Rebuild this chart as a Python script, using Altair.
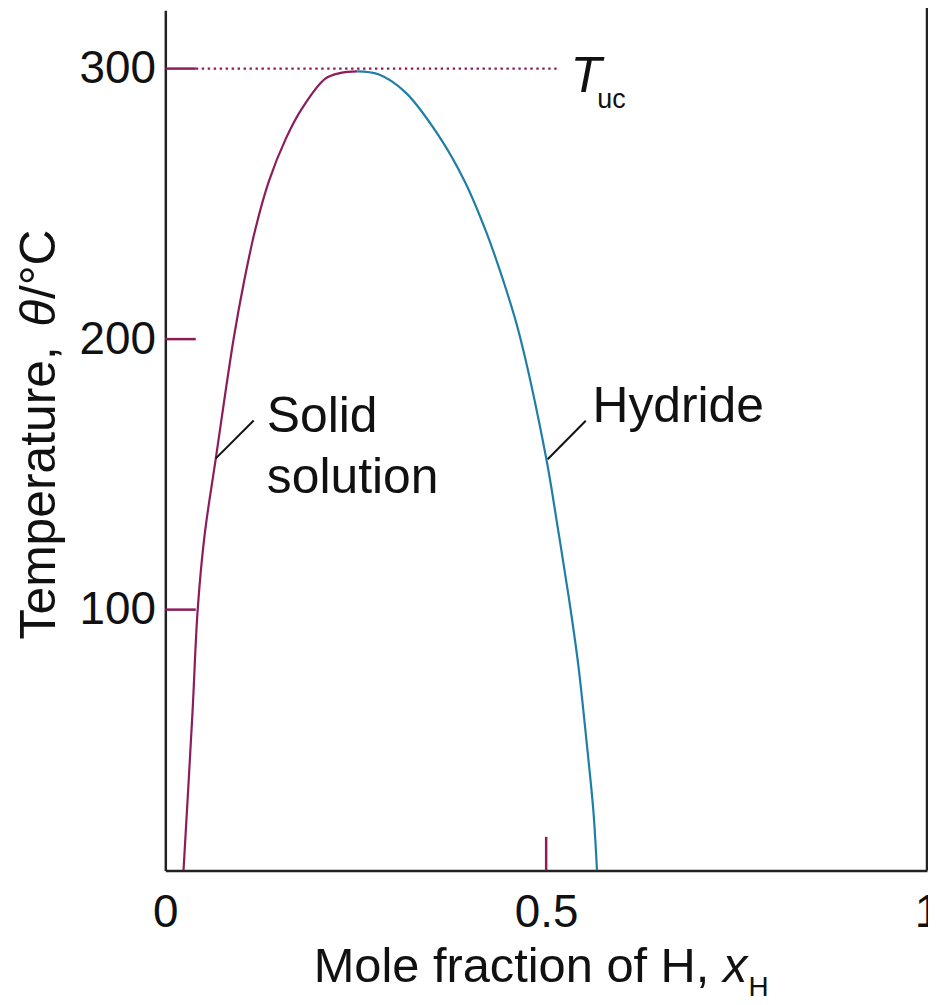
import altair as alt
import pandas as pd

# ---- data ----
solid_x = [0.0239, 0.0357, 0.0425, 0.0516, 0.0663, 0.0898, 0.1035, 0.1186, 0.1359, 0.1584, 0.1795, 0.2101, 0.2301, 0.2523]
solid_T = [3.6, 62.1, 100.0, 127.6, 155.9, 200.3, 221.5, 241.1, 258.3, 274.2, 285.3, 296.3, 298.4, 299.0]

hydride_x = [0.2523, 0.2797, 0.3146, 0.3582, 0.3931, 0.4209, 0.4438, 0.4647, 0.4997, 0.5150, 0.5294, 0.5418, 0.5536, 0.5621, 0.5667]
hydride_T = [299.0, 297.9, 291.4, 275.5, 258.3, 239.9, 221.5, 201.9, 156.5, 130.7, 105.1, 80.4, 49.7, 25.2, 3.7]

y_tick_values = [100, 200, 300]
x_tick_values = [0, 0.5, 1]
T_uc = 300

T_MIN, T_MAX = 3.6, 321.6

CRIMSON = "#8c1c5a"
BLUE = "#1f7ea6"
AXIS = "#222222"
FONT = "Liberation Sans"

xs = alt.Scale(domain=[0, 1], nice=False, zero=False)
ys = alt.Scale(domain=[T_MIN, T_MAX], nice=False, zero=False)

df_solid = pd.DataFrame({"x": solid_x, "T": solid_T})
df_hyd = pd.DataFrame({"x": hydride_x, "T": hydride_T})

solid_line = alt.Chart(df_solid).mark_line(
    interpolate="catmull-rom", color=CRIMSON, strokeWidth=2.2
).encode(
    x=alt.X("x:Q", scale=xs, axis=alt.Axis(
        values=x_tick_values, format=".1~f", ticks=False, grid=False,
        domainColor=AXIS, domainWidth=2.5, labelFont=FONT, labelFontSize=46,
        labelColor="#111111", labelPadding=20, title=None, labelFlush=False)),
    y=alt.Y("T:Q", scale=ys, axis=alt.Axis(
        values=y_tick_values, format="d", ticks=False, grid=False,
        domainColor=AXIS, domainWidth=2.5, labelFont=FONT, labelFontSize=46,
        labelColor="#111111", labelPadding=10, title=None)),
)

hyd_line = alt.Chart(df_hyd).mark_line(
    interpolate="catmull-rom", color=BLUE, strokeWidth=2.2
).encode(x=alt.X("x:Q", scale=xs), y=alt.Y("T:Q", scale=ys))

# inward crimson ticks on the temperature axis
TICK_LEN_X = 0.04
df_yticks = pd.DataFrame({"x0": [0] * len(y_tick_values), "x1": [TICK_LEN_X] * len(y_tick_values), "T": y_tick_values})
y_ticks = alt.Chart(df_yticks).mark_rule(color=CRIMSON, strokeWidth=2.5).encode(
    x=alt.X("x0:Q", scale=xs), x2="x1:Q", y=alt.Y("T:Q", scale=ys))

# inward tick at x = 0.5
df_xtick = pd.DataFrame({"x": [0.5], "T0": [T_MIN], "T1": [16.0]})
x_tick = alt.Chart(df_xtick).mark_rule(color=CRIMSON, strokeWidth=2.5).encode(
    x=alt.X("x:Q", scale=xs), y=alt.Y("T0:Q", scale=ys), y2="T1:Q")

# dotted Tuc line
df_dot = pd.DataFrame({"x0": [TICK_LEN_X], "x1": [0.518], "T": [T_uc]})
dotted = alt.Chart(df_dot).mark_rule(color=CRIMSON, strokeWidth=2.4, strokeDash=[2.4, 3.6]).encode(
    x=alt.X("x0:Q", scale=xs), x2="x1:Q", y=alt.Y("T:Q", scale=ys))

# right border line
df_right = pd.DataFrame({"x": [1.0], "T0": [T_MIN], "T1": [T_MAX + 1.0]})
right_border = alt.Chart(df_right).mark_rule(color=AXIS, strokeWidth=2.5).encode(
    x=alt.X("x:Q", scale=xs), y=alt.Y("T0:Q", scale=ys), y2="T1:Q")

# leader lines
df_lead = pd.DataFrame({
    "x0": [0.0663, 0.502], "T0": [155.9, 155.6],
    "x1": [0.116, 0.552], "T1": [169.9, 169.8],
})
leaders = alt.Chart(df_lead).mark_rule(color="#111111", strokeWidth=2).encode(
    x=alt.X("x0:Q", scale=xs), y=alt.Y("T0:Q", scale=ys), x2="x1:Q", y2="T1:Q")

# annotations
df_lab = pd.DataFrame({
    "x": [0.1333, 0.1333, 0.5608],
    "T": [165.6, 143.1, 169.3],
    "text": ["Solid", "solution", "Hydride"],
})
labels = alt.Chart(df_lab).mark_text(
    font=FONT, fontSize=50, align="left", baseline="alphabetic", color="#111111"
).encode(x=alt.X("x:Q", scale=xs), y=alt.Y("T:Q", scale=ys), text="text:N")

df_T = pd.DataFrame({"x": [0.532], "T": [291.4], "text": ["T"]})
t_label = alt.Chart(df_T).mark_text(
    font=FONT, fontSize=51, fontStyle="italic", align="left", baseline="alphabetic", color="#111111"
).encode(x=alt.X("x:Q", scale=xs), y=alt.Y("T:Q", scale=ys), text="text:N")

df_uc = pd.DataFrame({"x": [0.567], "T": [285.3], "text": ["uc"]})
uc_label = alt.Chart(df_uc).mark_text(
    font=FONT, fontSize=27, align="left", baseline="alphabetic", color="#111111"
).encode(x=alt.X("x:Q", scale=xs), y=alt.Y("T:Q", scale=ys), text="text:N")


def txt(s, x, y, size, italic=False, angle=0):
    kw = dict(font=FONT, fontSize=size, align="left", baseline="alphabetic", color="#111111")
    if italic:
        kw["fontStyle"] = "italic"
    if angle:
        kw["angle"] = angle
    return alt.Chart(pd.DataFrame({"t": [s]})).mark_text(**kw).encode(
        x=alt.value(x), y=alt.value(y), text="t:N")


# y-axis title: Temperature, θ/°C  (θ italic), reading bottom to top
YT = 50
y_title = [
    txt("Temperature,", -111, 632, YT, angle=270),
    txt("θ", -111, 632 - 6.28 * YT, YT, italic=True, angle=270),
    txt("/°C", -111, 632 - 6.28 * YT - 0.556 * YT, YT, angle=270),
]

# x-axis title: Mole fraction of H, x_H
XT = 49
x_title = [
    txt("Mole fraction of H,", 149, 976, XT),
    txt("x", 149 + 8.392 * XT, 976, XT, italic=True),
    txt("H", 149 + 8.392 * XT + 0.5 * XT + 1, 990, 28),
]

chart = alt.layer(
    solid_line, hyd_line, y_ticks, x_tick, dotted, right_border, leaders,
    labels, t_label, uc_label, *y_title, *x_title
).properties(
    width=765, height=864,
    autosize=alt.AutoSizeParams(type="none"),
    padding={"left": 158, "top": 0, "right": 1, "bottom": 134},
    view=alt.ViewBackground(stroke="transparent", strokeWidth=0),
).configure_view(strokeWidth=0, stroke="transparent", strokeOpacity=0).configure(background="white")

chart.save("out.html", embed_options={"renderer": "svg", "actions": False})
